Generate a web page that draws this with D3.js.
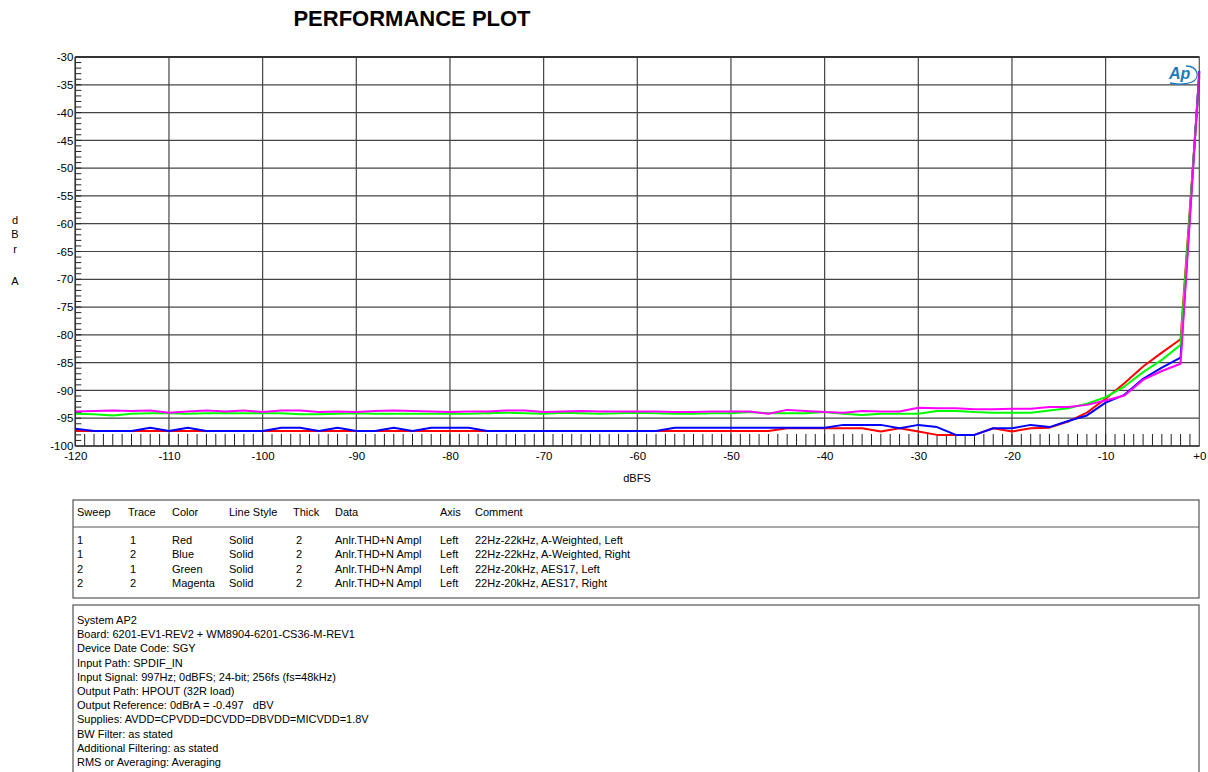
<!DOCTYPE html>
<html><head><meta charset="utf-8">
<script src="https://cdn.jsdelivr.net/npm/d3@7"></script>
<style>
body{margin:0;background:#fff}
svg{display:block;font-family:"Liberation Sans",Arial,sans-serif}
text{white-space:pre}
</style>
</head><body>
<svg id="c" width="1208" height="772"></svg>
<script>
// ---------- data ----------
const dBFS = [-120,-118,-116,-114,-112,-110,-108,-106,-104,-102,-100,-98,-96,-94,-92,-90,-88,-86,-84,-82,-80,-78,-76,-74,-72,-70,-68,-66,-64,-62,-60,-58,-56,-54,-52,-50,-48,-46,-44,-42,-40,-38,-36,-34,-32,-30,-28,-26,-24,-22,-20,-18,-16,-14,-12,-10,-8,-6,-4,-2,0];
const redA = [-97.3,-97.3,-97.3,-97.3,-97.3,-97.3,-97.3,-97.3,-97.3,-97.3,-97.3,-97.3,-97.3,-97.3,-97.3,-97.3,-97.3,-97.3,-97.3,-97.3,-97.3,-97.3,-97.3,-97.3,-97.3,-97.3,-97.3,-97.3,-97.3,-97.3,-97.3,-97.3,-97.3,-97.3,-97.3,-97.3,-97.3,-97.3,-96.8,-96.8,-96.8,-96.8,-96.8,-97.4,-96.8,-97.4,-98.0,-98.0,-98.0,-96.8,-97.4,-96.8,-96.7,-95.6,-94.0,-91.5,-88.7,-85.7,-83.2,-80.8,-33.5];
const blueA = [-96.9,-97.3,-97.3,-97.3,-96.7,-97.3,-96.7,-97.3,-97.3,-97.3,-97.3,-96.7,-96.7,-97.3,-96.7,-97.3,-97.3,-96.7,-97.3,-96.7,-96.7,-96.7,-97.3,-97.3,-97.3,-97.3,-97.3,-97.3,-97.3,-97.3,-97.3,-97.3,-96.7,-96.7,-96.7,-96.7,-96.7,-96.7,-96.7,-96.7,-96.7,-96.2,-96.2,-96.2,-96.8,-96.2,-96.6,-98.0,-98.0,-96.8,-96.8,-96.2,-96.6,-95.5,-94.5,-92.2,-90.8,-87.9,-85.9,-84.1,-32.5];
const greenA = [-94.2,-94.3,-94.5,-94.2,-94.1,-94.1,-94.2,-94.1,-94.1,-94.1,-94.1,-94.1,-94.3,-94.3,-94.2,-94.1,-94.2,-94.2,-94.2,-94.2,-94.2,-94.2,-94.1,-94.0,-94.1,-94.2,-94.0,-94.1,-94.2,-94.1,-94.0,-94.1,-94.2,-94.2,-94.1,-94.1,-93.9,-94.1,-94.1,-94.1,-93.9,-94.2,-94.4,-94.2,-94.2,-94.2,-93.7,-93.7,-93.9,-94.0,-94.0,-94.0,-93.6,-93.2,-92.4,-91.2,-89.3,-86.7,-84.5,-81.8,-33.2];
const magentaA = [-93.8,-93.7,-93.6,-93.7,-93.6,-94.0,-93.8,-93.6,-93.8,-93.6,-93.9,-93.6,-93.6,-93.9,-93.8,-93.9,-93.7,-93.6,-93.7,-93.8,-93.9,-93.8,-93.8,-93.6,-93.6,-93.9,-93.8,-93.7,-93.8,-93.8,-93.8,-93.8,-93.9,-93.9,-93.8,-93.8,-93.8,-94.2,-93.5,-93.7,-93.9,-94.0,-93.7,-93.8,-93.8,-93.1,-93.2,-93.2,-93.4,-93.4,-93.3,-93.3,-93.0,-93.0,-92.6,-91.8,-90.9,-88.1,-86.5,-85.2,-32.8];

const seriesNames = ["Red","Blue","Green","Magenta"];
const seriesColors = ["#ff0000","#0000ff","#00ff00","#ff00ff"];
const seriesValues = [redA, blueA, greenA, magentaA];

const xTicks = [-120,-110,-100,-90,-80,-70,-60,-50,-40,-30,-20,-10,0];
const xTickLabels = ["-120","-110","-100","-90","-80","-70","-60","-50","-40","-30","-20","-10","+0"];
const yTicks = [-30,-35,-40,-45,-50,-55,-60,-65,-70,-75,-80,-85,-90,-95,-100];
const yTickLabels = ["-30","-35","-40","-45","-50","-55","-60","-65","-70","-75","-80","-85","-90","-95","-100"];

const title = "PERFORMANCE PLOT";
const xTitle = "dBFS";
const yTitleChars = ["d","B","r","","A"];

const legendHeader = ["Sweep","Trace","Color","Line Style","Thick","Data","Axis","Comment"];
const legendRows = [
  ["1","1","Red","Solid","2","Anlr.THD+N Ampl","Left","22Hz-22kHz, A-Weighted, Left"],
  ["1","2","Blue","Solid","2","Anlr.THD+N Ampl","Left","22Hz-22kHz, A-Weighted, Right"],
  ["2","1","Green","Solid","2","Anlr.THD+N Ampl","Left","22Hz-20kHz, AES17, Left"],
  ["2","2","Magenta","Solid","2","Anlr.THD+N Ampl","Left","22Hz-20kHz, AES17, Right"]
];
const notes = [
  "System AP2",
  "Board: 6201-EV1-REV2 + WM8904-6201-CS36-M-REV1",
  "Device Date Code: SGY",
  "Input Path: SPDIF_IN",
  "Input Signal: 997Hz; 0dBFS; 24-bit; 256fs (fs=48kHz)",
  "Output Path: HPOUT (32R load)",
  "Output Reference: 0dBrA = -0.497   dBV",
  "Supplies: AVDD=CPVDD=DCVDD=DBVDD=MICVDD=1.8V",
  "BW Filter: as stated",
  "Additional Filtering: as stated",
  "RMS or Averaging: Averaging"
];

// ---------- layout ----------
const svg = d3.select("#c");
const L = 75.3, R = 1199.3, T = 57, B = 446;
const x = d3.scaleLinear().domain([-120, 0]).range([L, R]);
const y = d3.scaleLinear().domain([-100, -30]).range([B, T]);

svg.append("text").attr("x", 412).attr("y", 26).attr("text-anchor","middle")
  .attr("font-size", 22).attr("font-weight","bold").text(title);

// grid
const g = svg.append("g");
g.selectAll(".vg").data(xTicks.slice(1,-1)).join("line")
  .attr("x1", d=>x(d)).attr("x2", d=>x(d)).attr("y1", T).attr("y2", B)
  .attr("stroke","#444").attr("stroke-width",1.2);
g.selectAll(".hg").data(yTicks.slice(1,-1)).join("line")
  .attr("y1", d=>y(d)).attr("y2", d=>y(d)).attr("x1", L).attr("x2", R)
  .attr("stroke","#444").attr("stroke-width",1.2);

// minor ticks left (every 1 dB)
const yMinor = d3.range(-99, -30, 1);
g.selectAll(".lt").data(yMinor).join("line")
  .attr("x1", L).attr("x2", L+6).attr("y1", d=>y(d)).attr("y2", d=>y(d))
  .attr("stroke","#222").attr("stroke-width",1);
// minor ticks bottom (every 1 dB)
const xMinor = d3.range(-119, 0, 1);
g.selectAll(".bt").data(xMinor).join("line")
  .attr("x1", d=>x(d)).attr("x2", d=>x(d)).attr("y1", B).attr("y2", B-12)
  .attr("stroke","#222").attr("stroke-width",1);

// axes labels via d3 axes
const ax = svg.append("g").attr("transform", `translate(0,${B})`)
  .call(d3.axisBottom(x).tickValues(xTicks).tickSize(0).tickPadding(6)
    .tickFormat((d,i)=>xTickLabels[i]));
ax.select(".domain").remove();
ax.selectAll("text").attr("font-size", 11.5).attr("fill","#000")
  .attr("font-family","Liberation Sans, Arial, sans-serif");

const ay = svg.append("g").attr("transform", `translate(${L},0)`)
  .call(d3.axisLeft(y).tickValues(yTicks).tickSize(0).tickPadding(2)
    .tickFormat((d,i)=>yTickLabels[i]));
ay.select(".domain").remove();
ay.selectAll("text").attr("font-size", 11.5).attr("fill","#000")
  .attr("font-family","Liberation Sans, Arial, sans-serif");

svg.append("text").attr("x", 637).attr("y", 482).attr("text-anchor","middle")
  .attr("font-size", 11).text(xTitle);
const yt = svg.append("text").attr("x", 15).attr("y", 224).attr("text-anchor","middle").attr("font-size", 11);
yTitleChars.forEach((c,i)=>{
  yt.append("tspan").attr("x",15).attr("y", 224 + i*14.3 + (i===4?4:0)).text(c===""?"\u00a0":c);
});

// series
const line = d3.line().x((d,i)=>x(dBFS[i])).y(d=>y(d));
svg.append("g").selectAll("path").data(seriesValues).join("path")
  .attr("d", d=>line(d)).attr("fill","none")
  .attr("stroke",(d,i)=>seriesColors[i]).attr("stroke-width",2).attr("stroke-linejoin","round");

// border
svg.append("rect").attr("x", L).attr("y", T).attr("width", R-L).attr("height", B-T)
  .attr("fill","none").attr("stroke","#555").attr("stroke-width",1.2);
svg.append("line").attr("x1", L).attr("x2", R).attr("y1", T).attr("y2", T).attr("stroke","#333").attr("stroke-width",2);
svg.append("line").attr("x1", L).attr("x2", R).attr("y1", B).attr("y2", B).attr("stroke","#333").attr("stroke-width",1.5);
svg.append("line").attr("x1", L).attr("x2", L).attr("y1", T).attr("y2", B).attr("stroke","#333").attr("stroke-width",1.5);

// Ap logo
const logo = svg.append("g").attr("transform","translate(1168,64)");
logo.append("text").attr("x", 1).attr("y", 15).attr("font-size", 16).attr("font-style","italic")
  .attr("font-weight","bold").attr("fill","#1b79c0").attr("font-family","Liberation Sans, Arial, sans-serif").text("Ap");
logo.append("path").attr("d","M18,2 C30,2 33,14 24,18 C20,20 10,21 2,19")
  .attr("fill","none").attr("stroke","#1b79c0").attr("stroke-width",1.3);

// legend table
const lt = svg.append("g");
lt.append("rect").attr("x", 73).attr("y", 500).attr("width", 1126).attr("height", 98)
  .attr("fill","none").attr("stroke","#555").attr("stroke-width",1.2);
lt.append("line").attr("x1",73).attr("x2",1199).attr("y1",527).attr("y2",527).attr("stroke","#555").attr("stroke-width",1);
const colX = [77,128,172,229,293,335,440,475];
const rowX = [77,130,172,229,296,335,440,475];
legendHeader.forEach((h,i)=>{
  lt.append("text").attr("x", colX[i]).attr("y", 516).attr("font-size", 11).text(h);
});
legendRows.forEach((r,j)=>{
  r.forEach((c,i)=>{
    lt.append("text").attr("x", rowX[i]).attr("y", 544 + j*14.3).attr("font-size", 11).text(c);
  });
});

// notes box
const nb = svg.append("g");
nb.append("rect").attr("x", 73).attr("y", 605).attr("width", 1126).attr("height", 180)
  .attr("fill","none").attr("stroke","#555").attr("stroke-width",1.2);
notes.forEach((n,i)=>{
  nb.append("text").attr("x", 77).attr("y", 624 + i*14.2).attr("font-size", 11)
    .attr("xml:space","preserve").text(n);
});
</script>
</body></html>
